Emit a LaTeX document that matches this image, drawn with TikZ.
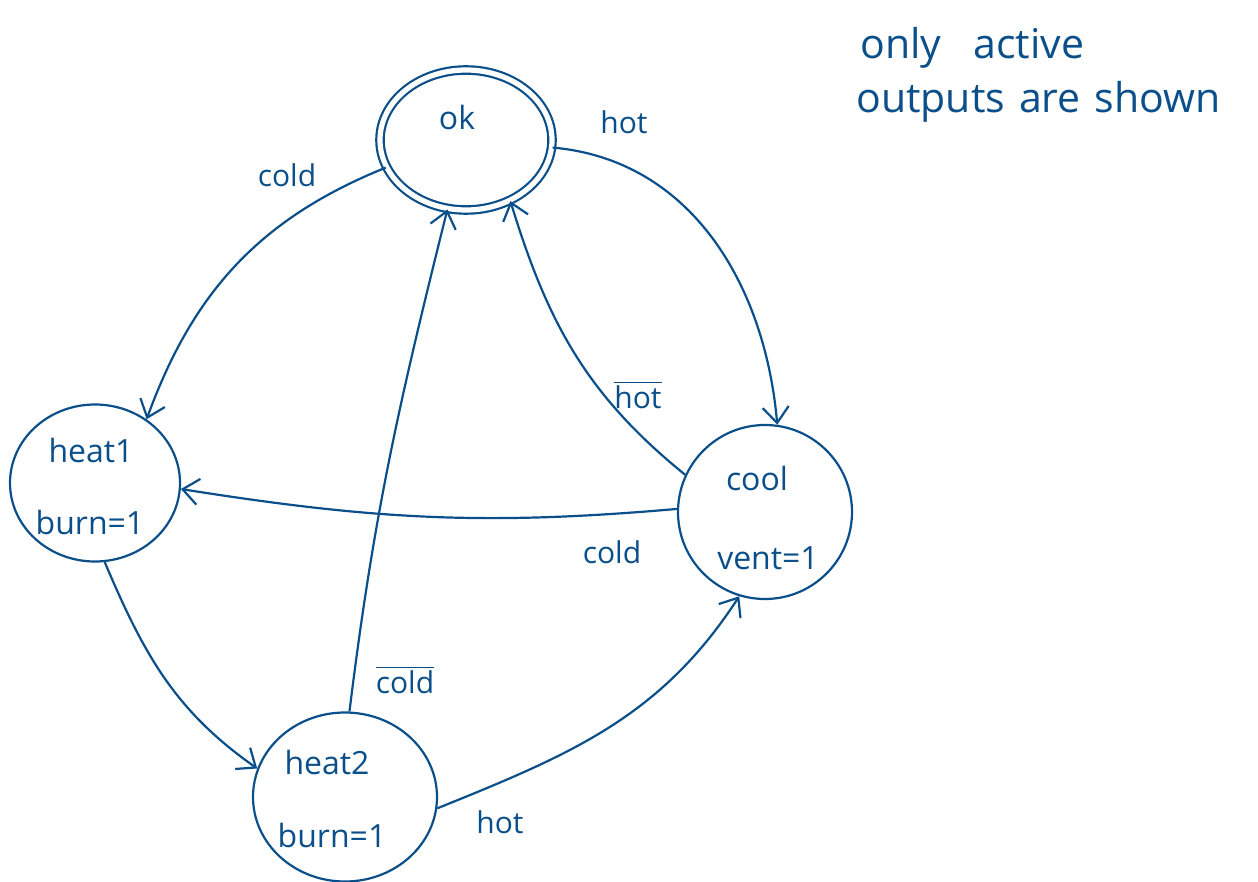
\documentclass[tikz,border=0pt]{standalone}
\usepackage{fontspec}
\setmainfont{Open Sans}
\usetikzlibrary{arrows.meta,shapes.geometric}
\definecolor{hand}{RGB}{11,79,138}
\newcommand\negtext[1]{$\overline{\mbox{#1}}$}
\tikzset{
  state/.style={ellipse, draw=hand, line width=1.1pt, inner sep=0pt},
  txt/.style={text=hand, font=\fontsize{16}{18}\selectfont, inner sep=0pt},
  lbl/.style={text=hand, font=\fontsize{15}{17}\selectfont, inner sep=0pt},
  note/.style={text=hand, font=\fontsize{20.5}{24}\selectfont, inner sep=0pt, anchor=west},
  edge/.style={draw=hand, line width=1.1pt, -{Straight Barb[length=8pt,width=13pt,line width=1.1pt]}}
}
\begin{document}
\begin{tikzpicture}[x=0.5pt,y=-0.5pt]
\useasboundingbox (0,0) rectangle (1258,882);

% states
\node[state, double=white, double distance=2.6pt, minimum width=86pt, minimum height=70pt] (ok) at (466,140) {};
\node[state, minimum width=85pt, minimum height=78.5pt] (heat1) at (95,483) {};
\node[state, minimum width=87pt, minimum height=87pt] (cool) at (765,512) {};
\node[state, minimum width=92pt, minimum height=84.5pt] (heat2) at (345,797) {};

% state texts
\node[txt] (tok) at (457,118) {ok};
\node[txt] (th1) at (91,450) {heat1};
\node[txt] (bh1) at (90,522) {burn=1};
\node[txt] (tcool) at (757,478) {cool};
\node[txt] (vcool) at (768,558) {vent=1};
\node[txt] (th2) at (327,762) {heat2};
\node[txt] (bh2) at (332,835) {burn=1};

% transitions
\draw[edge] (ok.199) to[out=202,in=70] (heat1.51);
\draw[edge] (ok.355) to[out=-5,in=95] (cool.82);
\draw[edge] (cool.155) to[out=141,in=287] (ok.306);
\draw[edge] (cool.178) to[out=185,in=-9] (heat1.356);
\draw[edge] (heat1.277) to[out=-67,in=145] (heat2.162);
\draw[edge] (heat2.87) to[out=83,in=256] (ok.255);
\draw[edge] (heat2.353) to[out=22,in=237] (cool.253);

% transition labels
\node[lbl] (l1) at (287,175) {cold};
\node[lbl] (l2) at (624,122) {hot};
\node[lbl] (l3) at (638,395) {\negtext{hot}};
\node[lbl] (l4) at (612,552) {cold};
\node[lbl] (l5) at (405,680) {\negtext{cold}};
\node[lbl] (l6) at (500,822) {hot};

% note
\node[note] (n1) at (860,48) {only\hspace{16pt}active};
\node[note] (n2) at (856,102) {outputs\hspace{7pt}are\hspace{7pt}shown};
\end{tikzpicture}
\end{document}
